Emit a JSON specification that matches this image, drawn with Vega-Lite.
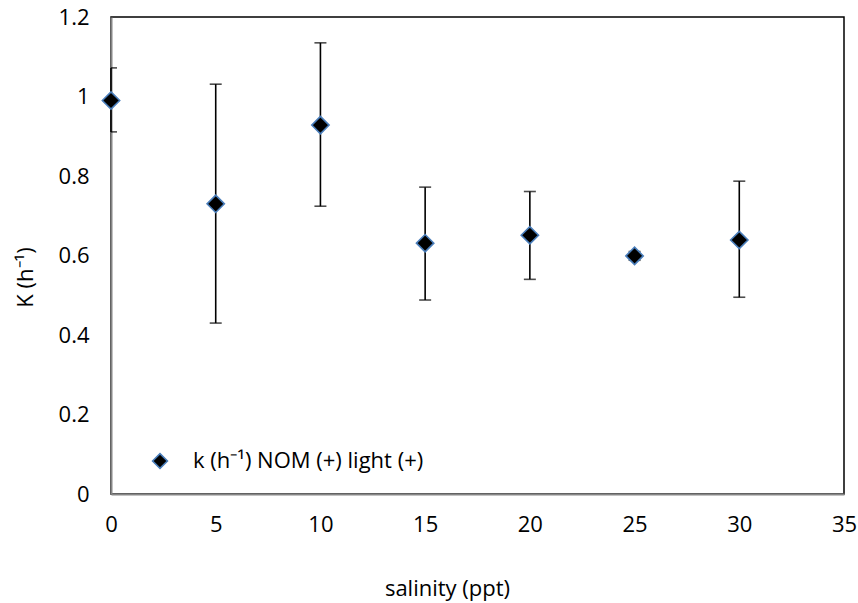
{
  "$schema": "https://vega.github.io/schema/vega-lite/v6.json",
  "width": 733,
  "height": 477,
  "autosize": {"type": "none"},
  "padding": {"left": 111, "top": 17, "right": 14, "bottom": 109},
  "background": "white",
  "config": {
    "font": "Open Sans",
    "view": {"stroke": "black", "strokeWidth": 1.5},
    "axis": {
      "grid": false,
      "ticks": false,
      "domainColor": "#868686",
      "domainWidth": 2,
      "labelFont": "Open Sans",
      "labelFontSize": 22,
      "labelColor": "black",
      "labelFlush": false,
      "titleFont": "Open Sans",
      "titleFontSize": 22,
      "titleFontWeight": "normal",
      "titleColor": "black"
    }
  },
  "data": {
    "values": [
      {"salinity": 0, "k": 0.99, "lo": 0.911, "hi": 1.072, "series": "k (h⁻¹) NOM (+) light (+)"},
      {"salinity": 5, "k": 0.73, "lo": 0.43, "hi": 1.031, "series": "k (h⁻¹) NOM (+) light (+)"},
      {"salinity": 10, "k": 0.928, "lo": 0.724, "hi": 1.135, "series": "k (h⁻¹) NOM (+) light (+)"},
      {"salinity": 15, "k": 0.631, "lo": 0.488, "hi": 0.772, "series": "k (h⁻¹) NOM (+) light (+)"},
      {"salinity": 20, "k": 0.651, "lo": 0.54, "hi": 0.761, "series": "k (h⁻¹) NOM (+) light (+)"},
      {"salinity": 25, "k": 0.599, "lo": 0.588, "hi": 0.61, "series": "k (h⁻¹) NOM (+) light (+)"},
      {"salinity": 30, "k": 0.639, "lo": 0.495, "hi": 0.787, "series": "k (h⁻¹) NOM (+) light (+)"}
    ]
  },
  "encoding": {
    "x": {
      "field": "salinity",
      "type": "quantitative",
      "scale": {"domain": [0, 35], "nice": false, "zero": false},
      "axis": {
        "values": [0, 5, 10, 15, 20, 25, 30, 35],
        "title": "salinity (ppt)",
        "labelPadding": 20,
        "titleX": 336,
        "titleY": 94,
        "titleBaseline": "middle",
        "titleAnchor": null
      }
    }
  },
  "layer": [
    {
      "mark": {"type": "rule", "color": "black", "strokeWidth": 1.6},
      "encoding": {
        "y": {
          "field": "lo",
          "type": "quantitative",
          "scale": {"domain": [0, 1.2], "nice": false},
          "axis": {
            "values": [0, 0.2, 0.4, 0.6, 0.8, 1, 1.2],
            "format": "~g",
            "title": "K (h⁻¹)",
            "labelPadding": 22,
            "titleX": -86,
            "titleY": 260,
            "titleAnchor": null,
            "titleBaseline": "middle"
          }
        },
        "y2": {"field": "hi"}
      }
    },
    {
      "mark": {"type": "tick", "orient": "horizontal", "color": "black", "size": 12, "thickness": 1.6, "clip": true},
      "encoding": {"y": {"field": "lo", "type": "quantitative"}}
    },
    {
      "mark": {"type": "tick", "orient": "horizontal", "color": "black", "size": 12, "thickness": 1.6, "clip": true},
      "encoding": {"y": {"field": "hi", "type": "quantitative"}}
    },
    {
      "mark": {"type": "point", "shape": "diamond", "filled": true, "size": 300, "stroke": "#4a7ebb", "strokeWidth": 1.6, "opacity": 1},
      "encoding": {
        "y": {"field": "k", "type": "quantitative"},
        "fill": {
          "field": "series",
          "type": "nominal",
          "scale": {"range": ["black"]},
          "legend": {
            "title": null,
            "orient": "none",
            "legendX": 38,
            "legendY": 433,
            "symbolType": "diamond",
            "symbolSize": 220,
            "symbolStrokeColor": "#4a7ebb",
            "symbolStrokeWidth": 1.6,
            "symbolFillColor": "black",
            "labelFont": "Open Sans",
            "labelFontSize": 22,
            "labelColor": "black",
            "labelOffset": 22,
            "labelLimit": 400
          }
        }
      }
    }
  ]
}
